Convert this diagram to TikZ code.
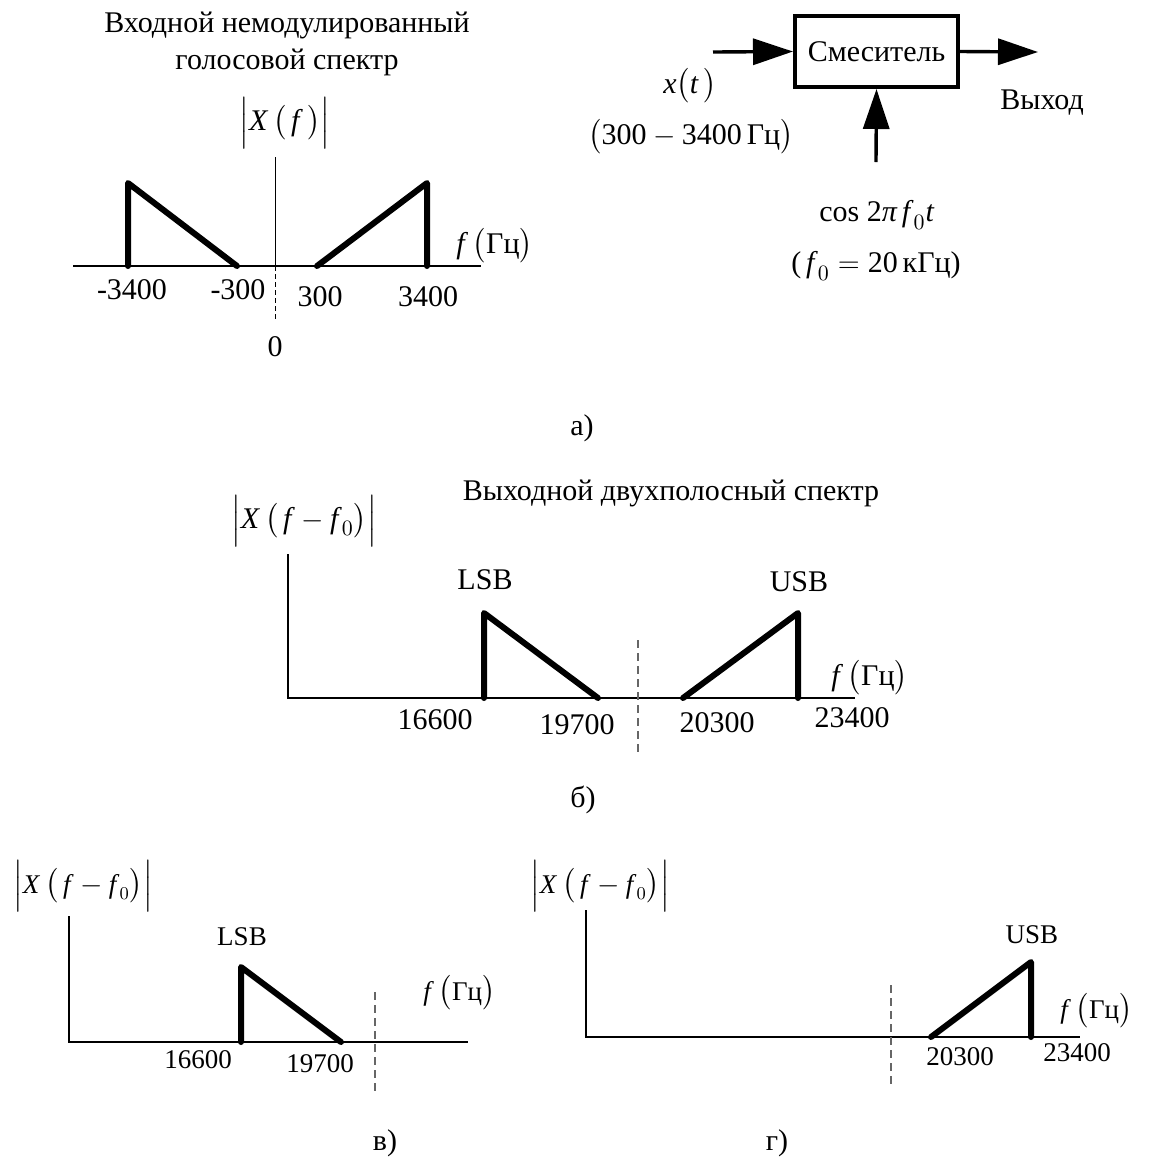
\documentclass[tikz,border=0pt]{standalone}
\usepackage{amsmath}
\usepackage{fontspec}
\setmainfont{Liberation Serif}
\usetikzlibrary{arrows.meta}
\newcommand{\ti}[1]{\mbox{\textit{#1}}}
\newcommand{\tu}[1]{\mbox{#1}}
\begin{document}
\begin{tikzpicture}[x=0.5pt,y=-0.5pt,
  lbl/.style={inner sep=0pt, font=\fontsize{15}{18}\selectfont},
  lbls/.style={inner sep=0pt, font=\fontsize{13.5}{16}\selectfont},
  axisline/.style={line width=1.3pt},
  spec/.style={line width=3pt, line join=round, line cap=round},
  thinline/.style={line width=0.5pt},
  dashblack/.style={line width=0.5pt, dash pattern=on 2.5pt off 1.5pt},
  dashgray/.style={line width=0.6pt, dash pattern=on 4pt off 2.5pt, draw=black!60},
  sig/.style={line width=1.7pt, -{Triangle[length=20pt,width=13pt]}},
  mixbox/.style={draw, line width=2pt, minimum width=81.5pt, minimum height=35.5pt, inner sep=0pt, font=\fontsize{15}{18}\selectfont}
]
\useasboundingbox (0,0) rectangle (1154,1164);

% ---------- panel a, spectrum ----------
\node[lbl] (ta1) at (287,25) {Входной немодулированный};
\node[lbl] (ta2) at (287,62) {голосовой спектр};
\node[lbl] (xa) at (285,123) {$\Bigl|\ti{X}\,\bigl(\,\ti{f}\,\bigr)\Bigr|$};
\draw[thinline] (275,157) -- (275,266);
\draw[dashblack] (275,266) -- (275,320);
\draw[axisline] (73,266) -- (481,266);
\draw[spec] (128,266) -- (128,183) -- (237,266);
\draw[spec] (317,266) -- (427,183) -- (427,266);
\node[lbl, anchor=west] (fa) at (456,246) {$\ti{f}\,\bigl(\tu{Гц}\bigr)$};
\node[lbl] (a1) at (132,290) {-3400};
\node[lbl] (a2) at (238,290) {-300};
\node[lbl] (a3) at (320,297) {300};
\node[lbl] (a4) at (428,297) {3400};
\node[lbl] (a0) at (275,347) {0};

% ---------- panel a, mixer ----------
\node[mixbox] (mix) at (876.5,51.5) {Смеситель};
\coordinate (inx) at (713,52);
\coordinate (outx) at (1038,52);
\coordinate (cosin) at (876,162);
\draw[sig] (inx) -- (mix.west);
\draw[sig] (mix.east) -- (outx);
\draw[sig] (cosin) -- (mix.south);
\node[lbl] (xt) at (690,86) {$\ti{x}\bigl(\ti{t}\,\bigr)$};
\node[lbl] (band) at (691,137) {$\bigl(\tu{300}-\tu{3400\,Гц}\bigr)$};
\node[lbl, anchor=west] (out) at (1000,103) {Выход};
\node[lbl] (cosl) at (877,215) {$\tu{cos 2}\ti{π\,f}_0\ti{t}$};
\node[lbl] (f0l) at (876,266) {$\tu{(}\,\ti{f}_0 = \tu{20\,кГц)}$};
\node[lbl] (capa) at (582,428) {а)};

% ---------- panel b ----------
\node[lbl] (tb) at (671,493) {Выходной двухполосный спектр};
\node[lbl] (xb) at (304,521) {$\Bigl|\ti{X}\,\bigl(\,\ti{f}-\ti{f}_0\bigr)\Bigr|$};
\draw[axisline] (288,554) -- (288,698) -- (855,698);
\draw[spec] (484,698) -- (484,613) -- (598,698);
\draw[spec] (683,698) -- (798,613) -- (798,698);
\draw[dashgray] (638,640) -- (638,755);
\node[lbl] (lsbb) at (485,580) {LSB};
\node[lbl] (usbb) at (799,582) {USB};
\node[lbl, anchor=west] (fb) at (831,678) {$\ti{f}\,\bigl(\tu{Гц}\bigr)$};
\node[lbl] (b1) at (435,720) {16600};
\node[lbl] (b2) at (577,725) {19700};
\node[lbl] (b3) at (717,723) {20300};
\node[lbl] (b4) at (852,718) {23400};
\node[lbl] (capb) at (583,800) {б)};

% ---------- panel v ----------
\node[lbls] (xv) at (83,886) {$\Bigl|\ti{X}\,\bigl(\,\ti{f}-\ti{f}_0\bigr)\Bigr|$};
\draw[axisline] (69,916) -- (69,1042) -- (468,1042);
\draw[spec] (241,1042) -- (241,967) -- (341,1042);
\draw[dashgray] (375,992) -- (375,1092);
\node[lbls] (lsbv) at (242,937) {LSB};
\node[lbls, anchor=west] (fv) at (423,993) {$\ti{f}\,\bigl(\tu{Гц}\bigr)$};
\node[lbls] (v1) at (198,1060) {16600};
\node[lbls] (v2) at (320,1064) {19700};
\node[lbl] (capv) at (385,1143) {в)};

% ---------- panel g ----------
\node[lbls] (xg) at (600,886) {$\Bigl|\ti{X}\,\bigl(\,\ti{f}-\ti{f}_0\bigr)\Bigr|$};
\draw[axisline] (586,910) -- (586,1037) -- (1080,1037);
\draw[spec] (931,1037) -- (1031,962) -- (1031,1037);
\draw[dashgray] (891,985) -- (891,1085);
\node[lbls] (usbg) at (1032,935) {USB};
\node[lbls, anchor=west] (fg) at (1060,1011) {$\ti{f}\,\bigl(\tu{Гц}\bigr)$};
\node[lbls] (g1) at (960,1057) {20300};
\node[lbls] (g2) at (1077,1053) {23400};
\node[lbl] (capg) at (777,1143) {г)};
\end{tikzpicture}
\end{document}
